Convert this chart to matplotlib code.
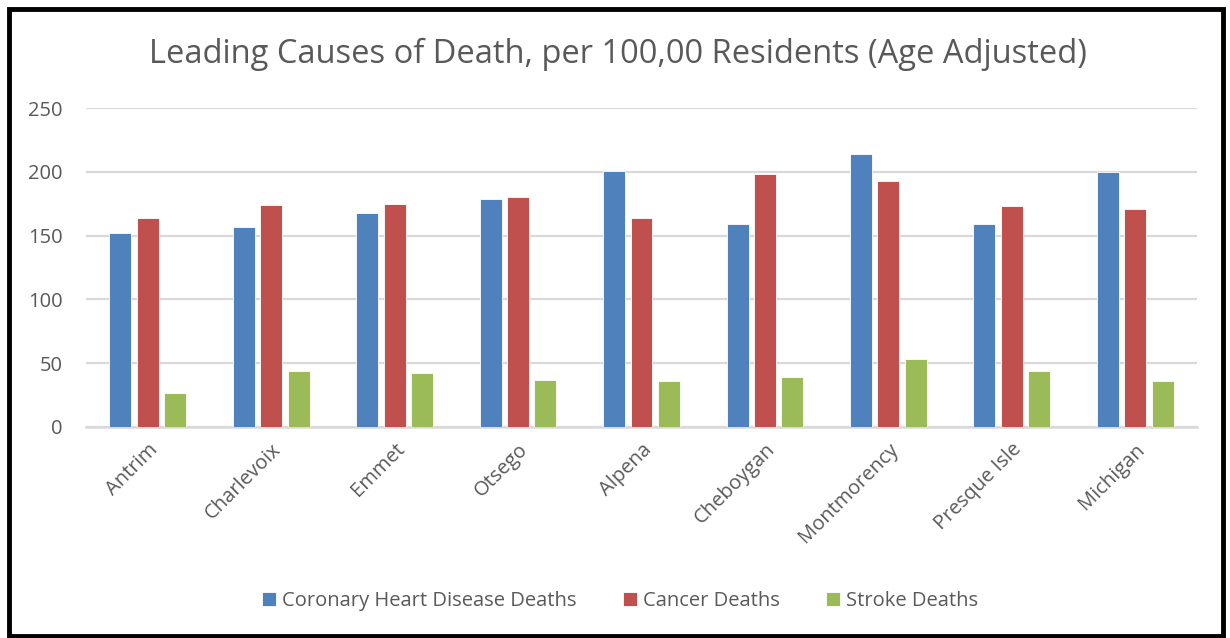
import numpy as np
import matplotlib.pyplot as plt
from matplotlib.patches import Rectangle

counties = ['Antrim', 'Charlevoix', 'Emmet', 'Otsego', 'Alpena',
            'Cheboygan', 'Montmorency', 'Presque Isle', 'Michigan']
heart = [152, 157, 168, 179, 201, 159, 214, 159, 200]
cancer = [164, 174, 175, 180, 164, 198, 193, 173, 171]
stroke = [27, 44, 42.5, 37, 36, 39, 53, 44, 36]

series = [('Coronary Heart Disease Deaths', heart, '#4f81bd'),
          ('Cancer Deaths', cancer, '#c0504d'),
          ('Stroke Deaths', stroke, '#9bbb59')]

plt.rcParams['font.family'] = ['Open Sans', 'DejaVu Sans']
text_color = '#595959'

fig = plt.figure(figsize=(12.3, 6.38), dpi=100)
ax = fig.add_axes([86 / 1230, 1 - 427 / 638, (1197 - 86) / 1230, (427 - 108) / 638])

x = np.arange(len(counties))
step = 0.222
width = 0.178
for i, (name, vals, color) in enumerate(series):
    ax.bar(x + (i - 1) * step, vals, width, color=color, label=name,
           edgecolor='white', linewidth=0.6, zorder=3)

ax.set_xlim(-0.5, len(counties) - 0.5)
ax.set_ylim(0, 250)
ax.set_yticks(range(0, 251, 50))
ax.yaxis.grid(True, color='#d9d9d9', linewidth=1.6, zorder=0)
for s in ['left', 'right', 'top']:
    ax.spines[s].set_visible(False)
ax.spines['bottom'].set_color('#d9d9d9')
ax.spines['bottom'].set_linewidth(1.8)
ax.tick_params(length=0, labelsize=14.5, colors=text_color)
ax.tick_params(axis='y', pad=17)
ax.set_xticks(x)
ax.set_xticklabels(counties, rotation=45, ha='right', rotation_mode='anchor')
ax.tick_params(axis='x', pad=9)

fig.text(0.502, 1 - 54 / 638, 'Leading Causes of Death, per 100,00 Residents (Age Adjusted)',
         ha='center', va='center', fontsize=23.5, color=text_color)

leg = fig.legend(loc='center', bbox_to_anchor=(0.504, 1 - 601 / 638), ncol=3,
                 frameon=False, fontsize=14.5, handlelength=0.7, handleheight=0.7,
                 handletextpad=0.3, columnspacing=2.3)
for t in leg.get_texts():
    t.set_color(text_color)

# outer frame
fig.patches.append(Rectangle((9 / 1230, 2 / 638), 1214 / 1230, 627 / 638,
                             transform=fig.transFigure, fill=False,
                             edgecolor='black', linewidth=3.5))

fig.savefig('out.png', dpi=100, facecolor='white')
